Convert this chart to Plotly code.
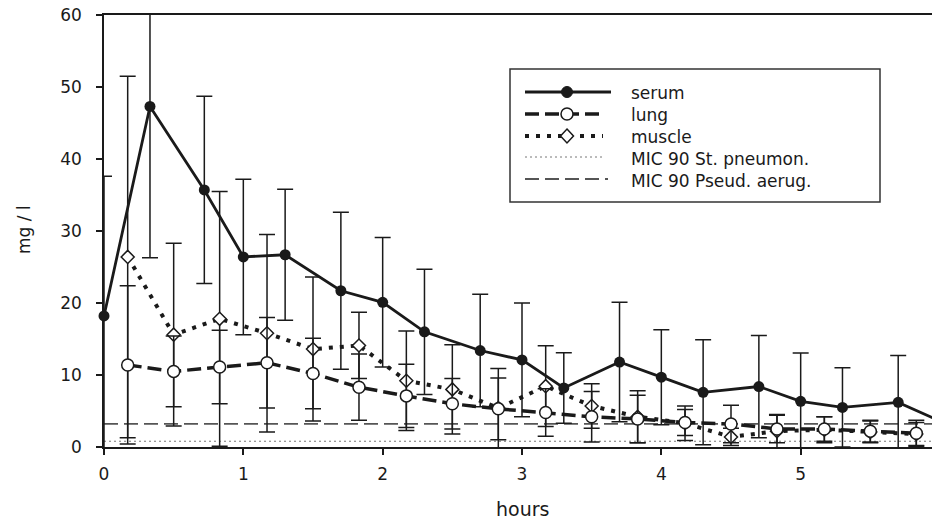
import plotly.graph_objects as go

# ---------------- data ----------------
serum_t = [0, 0.33, 0.72, 1.0, 1.3, 1.7, 2.0, 2.3, 2.7, 3.0, 3.3, 3.7, 4.0, 4.3, 4.7, 5.0, 5.3, 5.7, 6.0]
serum_mean = [18.2, 47.3, 35.7, 26.4, 26.7, 21.7, 20.1, 16.0, 13.4, 12.1, 8.2, 11.8, 9.7, 7.6, 8.4, 6.35, 5.5, 6.2, 3.6]
serum_sd = [19.4, 21.0, 13.0, 10.8, 9.1, 10.9, 9.0, 8.7, 7.8, 7.9, 4.9, 8.3, 6.6, 7.3, 7.1, 6.7, 5.5, 6.5, 1.7]

tissue_t = [0.17, 0.5, 0.83, 1.17, 1.5, 1.83, 2.17, 2.5, 2.83, 3.17, 3.5, 3.83, 4.17, 4.5, 4.83, 5.17, 5.5, 5.83]
lung_mean = [11.4, 10.5, 11.1, 11.7, 10.2, 8.3, 7.1, 6.0, 5.3, 4.8, 4.2, 3.9, 3.4, 3.2, 2.5, 2.5, 2.2, 1.9]
lung_sd = [11.0, 4.9, 5.1, 6.3, 4.9, 4.6, 4.4, 3.5, 4.3, 3.3, 3.5, 3.3, 1.8, 2.6, 1.9, 1.7, 1.5, 1.8]
muscle_mean = [26.4, 15.6, 17.8, 15.8, 13.6, 14.1, 9.2, 8.0, 5.4, 8.45, 5.7, 4.2, 3.3, 1.4, 2.2, 2.4, 2.1, 1.8]
muscle_sd = [25.1, 12.7, 17.7, 13.7, 10.0, 4.6, 6.9, 6.2, 5.5, 5.6, 3.1, 3.6, 2.4, 1.2, 2.3, 1.8, 1.5, 1.6]

mic_x = [0, 6]
mic_pneumon = 0.8
mic_pseud = 3.2

x_ticks = [0, 1, 2, 3, 4, 5, 6]
y_ticks = [0, 10, 20, 30, 40, 50, 60]
legend_labels = ["serum", "lung", "muscle", "MIC 90 St. pneumon.", "MIC 90 Pseud. aerug."]

# ---------------- layout helpers ----------------
# the page body has an 8px margin, so the figure is drawn 8px in from the window corner
OFF = 8
W, H = 940 - OFF, 520 - OFF
L, R, T, B = 104 - OFF, 0, 15 - OFF, 73
PW, PH = W - L - R, H - T - B


def px(xp):  # window pixel -> paper x
    return (xp - OFF - L) / PW


def py(yp):  # window pixel -> paper y
    return (H - B - (yp - OFF)) / PH


FONT = "DejaVu Sans"
INK = "#1a1a1a"

LUNG_DASH = "14px,6px"
MUSCLE_DASH = "4px,7px"
PNEU_DASH = "2px,3px"
PSEUD_DASH = "14px,6px"


def err(vals):
    return dict(type="data", array=vals, visible=True, color=INK, thickness=1.5, width=8)


fig = go.Figure()

fig.add_trace(go.Scatter(x=mic_x, y=[mic_pneumon] * len(mic_x), mode="lines",
                         line=dict(color="#777777", width=1, dash=PNEU_DASH),
                         showlegend=False, hoverinfo="skip"))
fig.add_trace(go.Scatter(x=mic_x, y=[mic_pseud] * len(mic_x), mode="lines",
                         line=dict(color="#555555", width=1.8, dash=PSEUD_DASH),
                         showlegend=False, hoverinfo="skip"))

fig.add_trace(go.Scatter(x=tissue_t, y=muscle_mean, mode="lines+markers", name="muscle",
                         line=dict(color=INK, width=4, dash=MUSCLE_DASH),
                         marker=dict(symbol="diamond", size=10, color="white",
                                     line=dict(color=INK, width=1.5)),
                         error_y=err(muscle_sd), showlegend=False))
fig.add_trace(go.Scatter(x=tissue_t, y=lung_mean, mode="lines+markers", name="lung",
                         line=dict(color=INK, width=3.5, dash=LUNG_DASH),
                         marker=dict(symbol="circle", size=12, color="white",
                                     line=dict(color=INK, width=1.5)),
                         error_y=err(lung_sd), showlegend=False))
fig.add_trace(go.Scatter(x=serum_t, y=serum_mean, mode="lines", name="serum",
                         line=dict(color=INK, width=2.8),
                         error_y=err(serum_sd), showlegend=False))
fig.add_trace(go.Scatter(x=serum_t, y=serum_mean, mode="markers", name="serum",
                         marker=dict(symbol="circle", size=11, color=INK),
                         cliponaxis=False, showlegend=False))

# ---------------- axes ----------------
axis_common = dict(showline=True, linewidth=1.5, linecolor=INK, ticks="outside",
                   ticklen=6, tickwidth=1.5, tickcolor=INK, showgrid=False,
                   zeroline=False, automargin=False, ticklabeloverflow="allow",
                   tickfont=dict(family=FONT, size=17, color=INK))
fig.update_xaxes(range=[0, 6], tickvals=x_ticks, mirror=True, ticklabelstandoff=5, **axis_common)
fig.update_yaxes(range=[0, 60], tickvals=y_ticks, ticklabelstandoff=11, **axis_common)

# ---------------- custom legend ----------------
shapes = [dict(type="rect", xref="paper", yref="paper",
               x0=px(510), x1=px(880), y0=py(69), y1=py(202),
               line=dict(color="#333333", width=1.5), fillcolor="white", layer="above")]
rows = [92, 114, 136, 157, 179]
styles = [
    dict(color=INK, width=2.8, dash="solid"),
    dict(color=INK, width=3.5, dash=LUNG_DASH),
    dict(color=INK, width=4, dash=MUSCLE_DASH),
    dict(color="#777777", width=1, dash=PNEU_DASH),
    dict(color="#555555", width=1.8, dash=PSEUD_DASH),
]
ends = [611, 603, 603, 603, 608]
for yrow, st, xe in zip(rows, styles, ends):
    shapes.append(dict(type="line", xref="paper", yref="paper", layer="above",
                       x0=px(525), x1=px(xe), y0=py(yrow), y1=py(yrow), line=st))
# legend glyphs
mx = px(567)
shapes.append(dict(type="circle", xref="paper", yref="paper", layer="above",
                   xsizemode="pixel", ysizemode="pixel", xanchor=mx, yanchor=py(rows[0]),
                   x0=-5.5, x1=5.5, y0=-5.5, y1=5.5, fillcolor=INK, line=dict(color=INK, width=1)))
shapes.append(dict(type="circle", xref="paper", yref="paper", layer="above",
                   xsizemode="pixel", ysizemode="pixel", xanchor=mx, yanchor=py(rows[1]),
                   x0=-6, x1=6, y0=-6, y1=6, fillcolor="white", line=dict(color=INK, width=1.5)))
shapes.append(dict(type="path", xref="paper", yref="paper", layer="above",
                   xsizemode="pixel", ysizemode="pixel", xanchor=mx, yanchor=py(rows[2]),
                   path="M0,7 L6.5,0 L0,-7 L-6.5,0 Z", fillcolor="white",
                   line=dict(color=INK, width=1.5)))

annotations = []
for lab, yrow in zip(legend_labels, [93, 115, 137, 159, 181]):
    annotations.append(dict(text=lab, xref="paper", yref="paper", x=px(629), y=py(yrow),
                            xanchor="left", yanchor="middle", showarrow=False,
                            font=dict(family=FONT, size=17, color=INK)))
annotations.append(dict(text="hours", xref="paper", yref="paper", x=px(522), y=py(509),
                        xanchor="center", yanchor="middle", showarrow=False,
                        font=dict(family=FONT, size=19, color=INK)))
annotations.append(dict(text="mg / l", xref="paper", yref="paper", x=px(24), y=py(230),
                        xanchor="center", yanchor="middle", showarrow=False, textangle=-90,
                        font=dict(family=FONT, size=17, color=INK)))

fig.update_layout(width=W, height=H, margin=dict(l=L, r=R, t=T, b=B, pad=0, autoexpand=False),
                  paper_bgcolor="white", plot_bgcolor="white",
                  shapes=shapes, annotations=annotations, showlegend=False)

fig.write_html("out.html")
